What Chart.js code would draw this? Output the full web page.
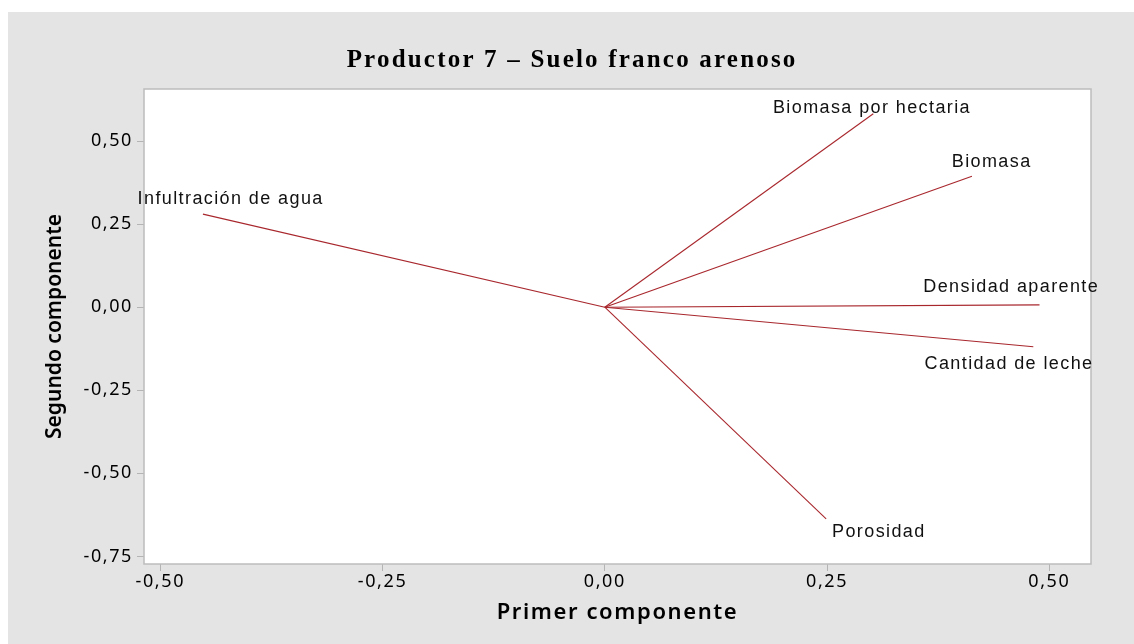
<!DOCTYPE html>
<html>
<head>
<meta charset="utf-8">
<title>Productor 7 – Suelo franco arenoso</title>
<script src="https://cdn.jsdelivr.net/npm/chart.js@4/dist/chart.umd.min.js"></script>
<style>
  html, body { margin: 0; padding: 0; background: #ffffff; }
  #panel { position: absolute; left: 8px; top: 12px; width: 1126px; height: 632px; background: #e4e4e4; }
  canvas { display: block; }
</style>
</head>
<body>
<div id="panel"><canvas id="biplot" width="1126" height="632"></canvas></div>
<script>
// Loadings of each variable on the first two principal components
const variables = [
  'Infultración de agua',
  'Biomasa por hectaria',
  'Biomasa',
  'Densidad aparente',
  'Cantidad de leche',
  'Porosidad'
];
const primerComponente  = [-0.452, 0.302, 0.413, 0.489, 0.482, 0.249];
const segundoComponente = [ 0.280, 0.582, 0.394, 0.007, -0.119, -0.637];

// Axis tick values
const xTicks = [-0.50, -0.25, 0.00, 0.25, 0.50];
const yTicks = [0.50, 0.25, 0.00, -0.25, -0.50, -0.75];

const chartTitle = 'Productor 7 – Suelo franco arenoso';

// Label placement around each vector tip (pixels: horizontal centre, baseline)
const labelOffsets = [[27, -10], [-2, -1], [19, -9], [-29, -13], [-25, 22], [52, 18]];

const lineColor = '#a8272d';
const fmt = v => Number(v).toFixed(2).replace('.', ',');

const datasets = variables.map((name, i) => ({
  label: name,
  data: [{ x: 0, y: 0 }, { x: primerComponente[i], y: segundoComponente[i] }],
  showLine: true,
  borderColor: lineColor,
  borderWidth: 1.1,
  pointRadius: 0,
  pointHoverRadius: 0,
  fill: false
}));

const biplotDecor = {
  id: 'biplotDecor',
  beforeDraw(chart) {
    const { ctx, chartArea: a } = chart;
    ctx.save();
    ctx.fillStyle = '#ffffff';
    ctx.fillRect(a.left, a.top, a.right - a.left, a.bottom - a.top);
    ctx.restore();
    ctx.letterSpacing = '0px';
  },
  afterDatasetsDraw(chart) {
    // wider tracking for tick labels and the horizontal axis title
    chart.ctx.letterSpacing = '1.6px';
  },
  afterDraw(chart) {
    const { ctx, chartArea: a, scales } = chart;
    ctx.save();
    ctx.letterSpacing = '0px';
    ctx.strokeStyle = '#bcbcbc';
    ctx.lineWidth = 1.5;
    ctx.strokeRect(a.left, a.top, a.right - a.left, a.bottom - a.top);

    // variable names at the vector tips
    ctx.letterSpacing = '1.4px';
    ctx.font = '18px "Liberation Sans", Arial, sans-serif';
    ctx.fillStyle = '#111111';
    ctx.textAlign = 'center';
    ctx.textBaseline = 'alphabetic';
    variables.forEach((name, i) => {
      const px = scales.x.getPixelForValue(primerComponente[i]);
      const py = scales.y.getPixelForValue(segundoComponente[i]);
      const [dx, dy] = labelOffsets[i];
      ctx.fillText(name, px + dx + 0.7, py + dy);
    });

    // chart title
    ctx.letterSpacing = '2.2px';
    ctx.font = 'bold 25px "Liberation Serif", "Times New Roman", serif';
    ctx.fillStyle = '#000000';
    ctx.fillText(chartTitle, chart.width / 2 + 1.1, 55.3);
    ctx.restore();
    ctx.letterSpacing = '0px';
  }
};

new Chart(document.getElementById('biplot'), {
  type: 'scatter',
  data: { datasets },
  plugins: [biplotDecor],
  options: {
    responsive: false,
    animation: false,
    events: [],
    layout: { padding: { top: 77, right: 43, bottom: 0, left: 0 } },
    plugins: {
      legend: { display: false },
      tooltip: { enabled: false },
      title: { display: false }
    },
    scales: {
      x: {
        type: 'linear',
        min: -0.5183,
        max: 0.5469,
        afterBuildTicks: s => { s.ticks = xTicks.map(v => ({ value: v })); },
        afterFit: s => { s.height = 80; },
        grid: { display: true, drawOnChartArea: false, drawTicks: true, tickLength: 7, color: '#b4b4b4', z: 1 },
        border: { display: false },
        ticks: {
          z: 1, padding: 0, color: '#000000', autoSkip: false, maxRotation: 0,
          font: { family: '"Noto Sans", "Open Sans", sans-serif', size: 18 },
          callback: v => fmt(v)
        },
        title: {
          display: true, text: 'Primer componente', color: '#000000',
          font: { family: '"Noto Sans", "Open Sans", sans-serif', size: 22, weight: '600' },
          padding: { top: 0, bottom: 18 }
        }
      },
      y: {
        type: 'linear',
        min: -0.7727,
        max: 0.6565,
        afterBuildTicks: s => { s.ticks = yTicks.map(v => ({ value: v })); },
        afterFit: s => { s.width = 136; },
        grid: { display: true, drawOnChartArea: false, drawTicks: true, tickLength: 7, color: '#b4b4b4' },
        border: { display: false },
        ticks: {
          z: 1, padding: 4, color: '#000000', autoSkip: false,
          font: { family: '"Noto Sans", "Open Sans", sans-serif', size: 18 },
          callback: v => fmt(v)
        },
        title: {
          display: true, text: 'Segundo componente', color: '#000000',
          font: { family: '"Noto Sans", "Open Sans", sans-serif', size: 21, weight: '600' },
          padding: { top: 34, bottom: 0 }
        }
      }
    }
  }
});
</script>
</body>
</html>
